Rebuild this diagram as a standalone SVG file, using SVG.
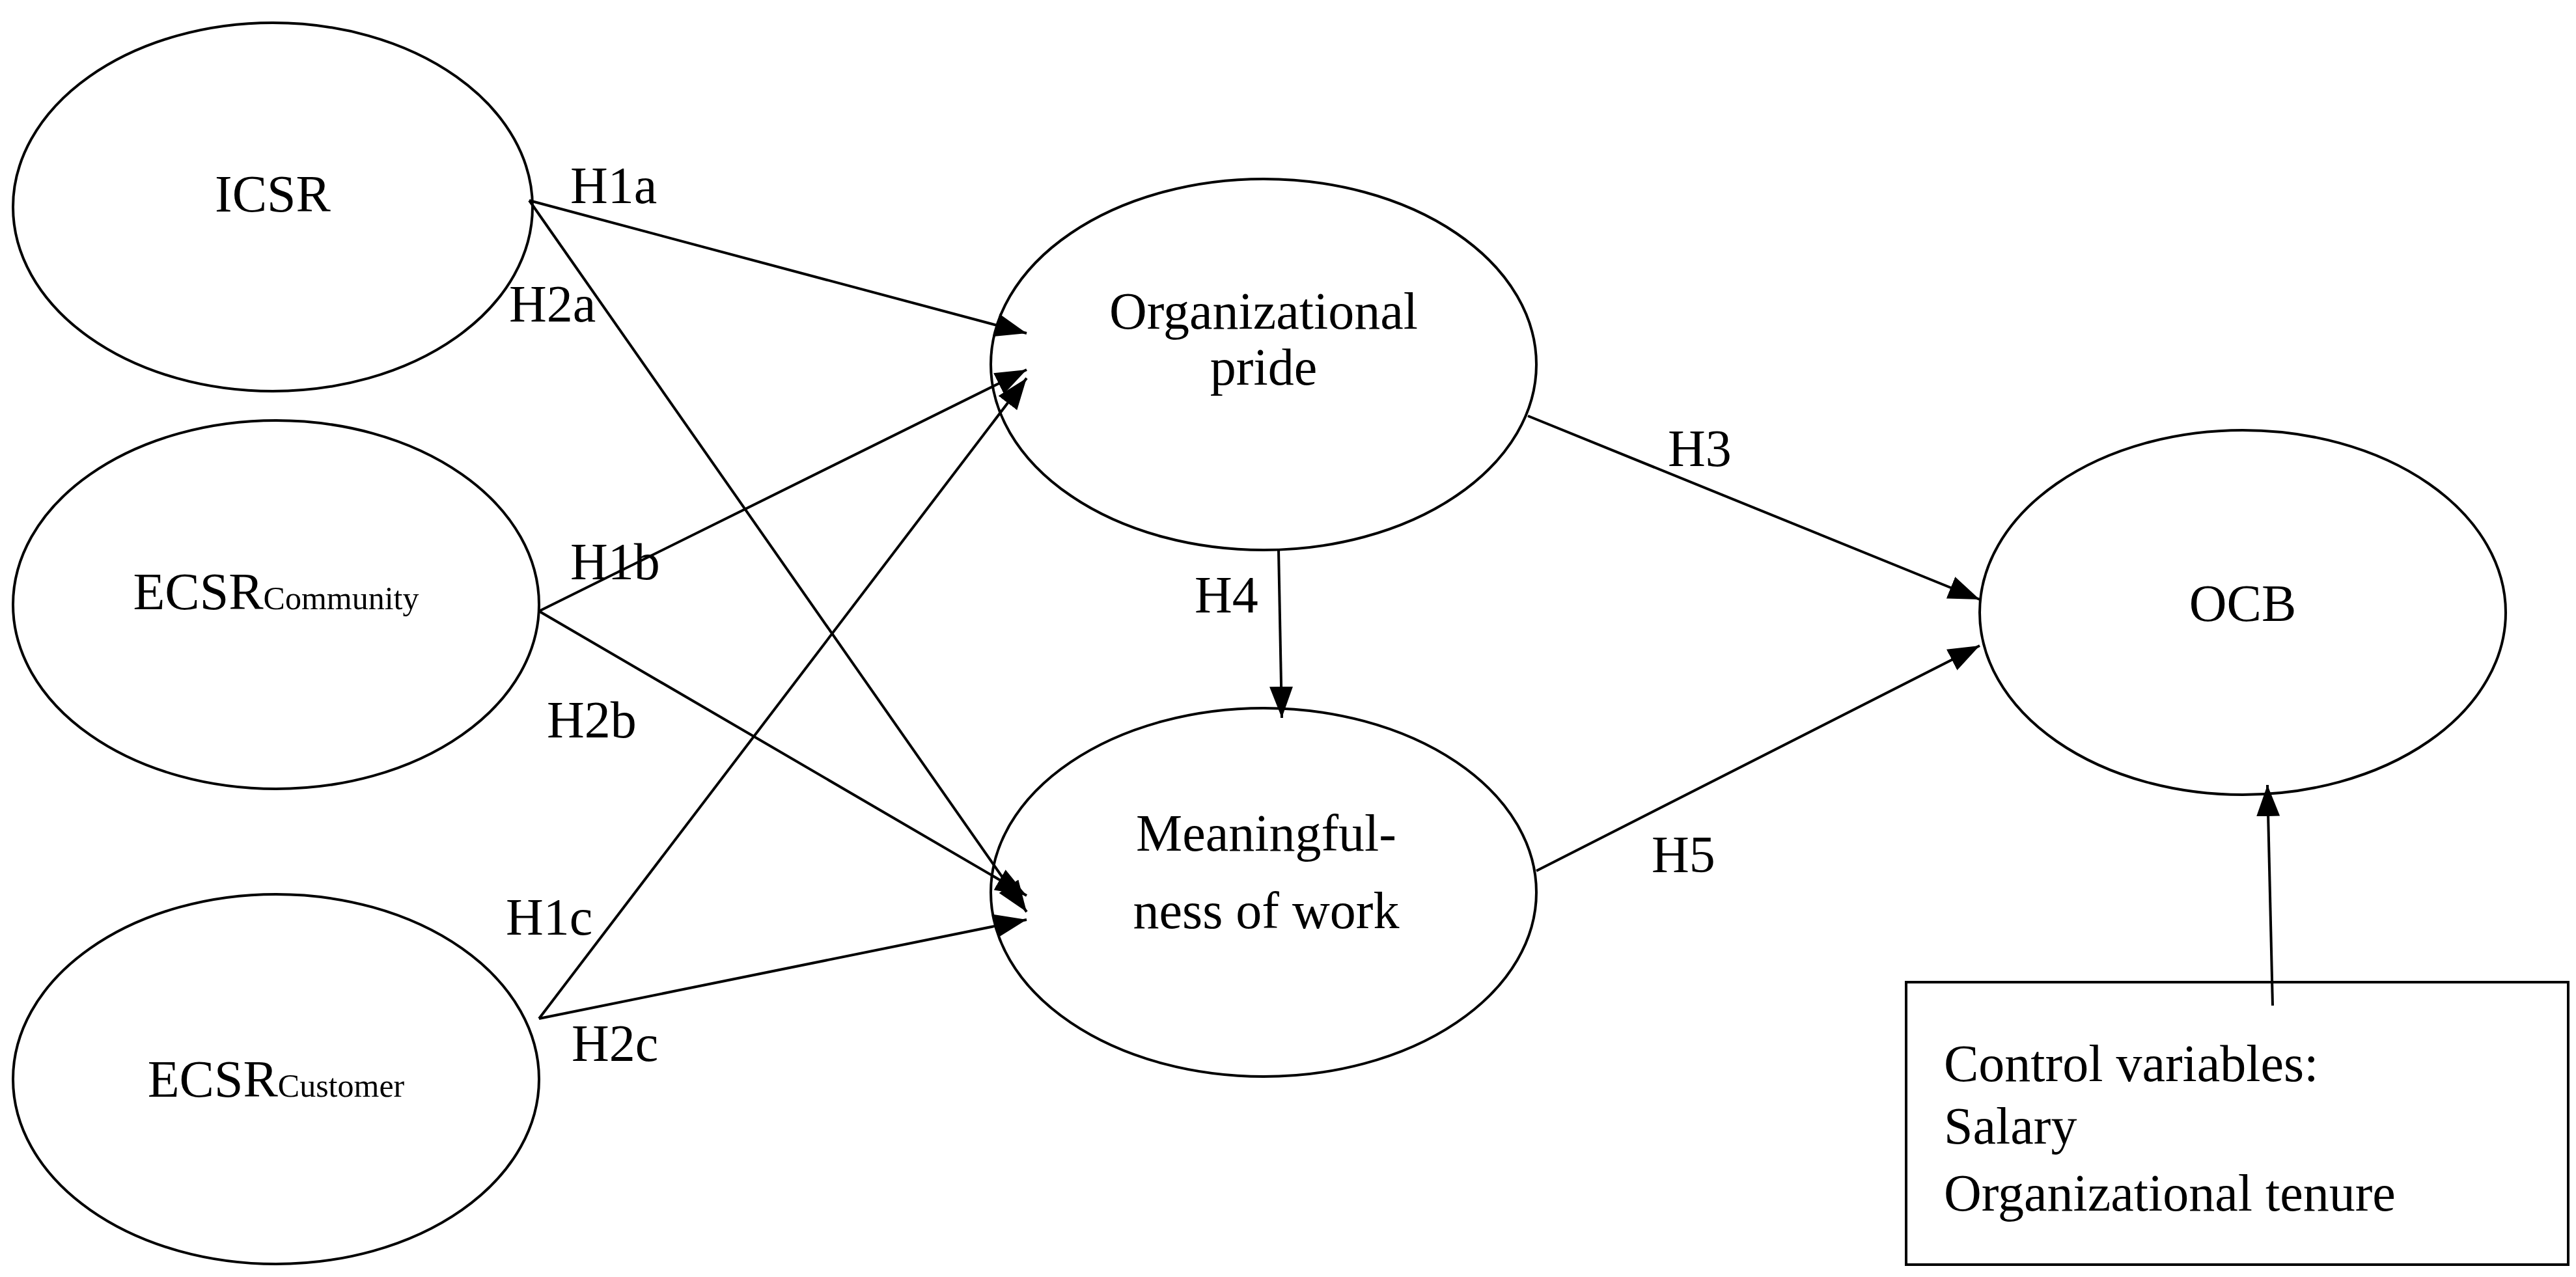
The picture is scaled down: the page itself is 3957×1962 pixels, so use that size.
<svg xmlns="http://www.w3.org/2000/svg" width="3957" height="1962" viewBox="0 0 3957 1962">
<defs>
<marker id="ah" markerWidth="12" markerHeight="9" refX="12" refY="4.5" orient="auto" markerUnits="strokeWidth"><path d="M0,0 L12,4.5 L0,9 z" fill="#000"/></marker>
<style>
.n{fill:#fff;stroke:#000;stroke-width:4}
.c line{stroke:#000;stroke-width:4;marker-end:url(#ah)}
text{font-family:"Liberation Serif","Times New Roman",serif;font-size:80px;fill:#000}
.m{text-anchor:middle}
.s{font-size:50px}
</style>
</defs>
<rect width="3957" height="1962" fill="#fff"/>
<g id="icsr"><ellipse class="n" cx="419" cy="318" rx="399" ry="283"/><text class="m" x="419" y="325">ICSR</text></g>
<g id="community"><ellipse class="n" cx="424" cy="929" rx="404" ry="283"/><text class="m" x="424" y="936">ECSR<tspan class="s">Community</tspan></text></g>
<g id="customer"><ellipse class="n" cx="424" cy="1658" rx="404" ry="284"/><text class="m" x="424" y="1685">ECSR<tspan class="s">Customer</tspan></text></g>
<g id="pride"><ellipse class="n" cx="1941" cy="560" rx="419" ry="285"/><text class="m" x="1941" y="505">Organizational</text><text class="m" x="1941" y="591">pride</text></g>
<g id="meaning"><ellipse class="n" cx="1941" cy="1371" rx="419" ry="283"/><text class="m" x="1945" y="1307">Meaningful-</text><text class="m" x="1945" y="1426">ness of work</text></g>
<g id="ocb"><ellipse class="n" cx="3445" cy="941" rx="404" ry="280"/><text class="m" x="3445" y="954">OCB</text></g>
<g id="control"><rect class="n" x="2928" y="1509" width="1017" height="434"/><text x="2986" y="1661">Control variables:</text><text x="2986" y="1757">Salary</text><text x="2986" y="1860">Organizational tenure</text></g>
<g id="connectors" class="c">
<line x1="813" y1="308" x2="1577" y2="512"/>
<line x1="813" y1="308" x2="1577" y2="1401"/>
<line x1="828" y1="939" x2="1577" y2="568"/>
<line x1="828" y1="939" x2="1577" y2="1376"/>
<line x1="828" y1="1565" x2="1577" y2="581"/>
<line x1="828" y1="1565" x2="1577" y2="1413"/>
<line x1="2347" y1="639" x2="3041" y2="921"/>
<line x1="1964" y1="845" x2="1969" y2="1103"/>
<line x1="2360" y1="1338" x2="3041" y2="992"/>
<line x1="3491" y1="1545" x2="3483" y2="1206"/>
</g>
<g id="labels">
<text x="876" y="312">H1a</text>
<text x="782" y="494">H2a</text>
<text x="876" y="890">H1b</text>
<text x="840" y="1133">H2b</text>
<text x="777" y="1436">H1c</text>
<text x="878" y="1630">H2c</text>
<text x="2562" y="716">H3</text>
<text x="1835" y="941">H4</text>
<text x="2537" y="1340">H5</text>
</g>
</svg>
